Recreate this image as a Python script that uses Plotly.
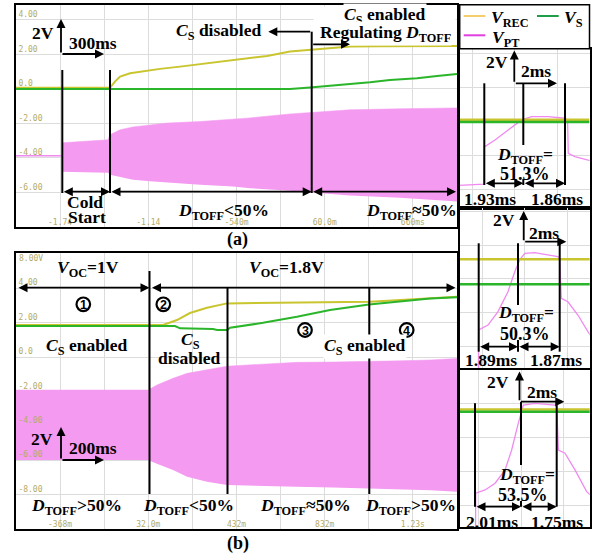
import plotly.graph_objects as go

W, H = 592, 554

# ================= DATA =================
# (a) cold start -- time in ms (300 ms/div), voltage in V
a_rec_t = [-2040, -1401, -1367, -1332, -1264, -1196, -1128, -1060, -924, -788, -564, -332, -176, -40, 96, 232, 436, 960]
a_rec_v = [0.06, 0.06, 0.42, 0.71, 0.91, 1.00, 1.06, 1.16, 1.29, 1.43, 1.68, 1.91, 2.16, 2.25, 2.34, 2.45, 2.47, 2.49]
a_s_t = [-2040, -176, -40, 96, 232, 368, 504, 688, 824, 960]
a_s_v = [0.0, 0.0, 0.08, 0.17, 0.29, 0.39, 0.52, 0.62, 0.75, 0.87]
a_pt_idle_t = [-2040, -1727]
a_pt_idle_v = [-3.87, -3.87]
a_pt_t = [-1727, -1414, -1401, -1332, -1244, -1128, -1013, -788, -564, -448, -176, 117, 232, 572, 960]
a_pt_top = [-3.12, -2.95, -2.66, -2.37, -2.20, -2.08, -1.98, -1.89, -1.75, -1.68, -1.45, -1.30, -1.21, -1.15, -1.10]
a_pt_bot = [-4.80, -4.86, -4.97, -5.10, -5.26, -5.35, -5.43, -5.55, -5.66, -5.75, -5.90, -6.13, -6.18, -6.30, -6.53]
a_xtick_vals = [-1740, -1440, -1140, -840, -540, -240, 60, 360, 660]
a_xtick_text = ['-1.74', '', '-1.14', '', '-540m', '', '60.0m', '', '660ms']
a_ytick_vals = [-6, -4, -2, 0, 2, 4]
a_ytick_text = ['-6.00', '-4.00', '-2.00', '0.0', '2.00', '4.00']

# (b) V_OC step 1V -> 1.8V -- time in ms (200 ms/div)
b_rec_t = [-568, 99, 162, 221, 298, 389, 1037, 1173, 1310, 1432]
b_rec_v = [1.87, 1.87, 2.15, 2.56, 2.87, 3.12, 3.22, 3.31, 3.41, 3.51]
b_s_t = [-568, 153, 176, 325, 344, 389, 403, 552, 706, 856, 1033, 1160, 1310, 1432]
b_s_v = [1.80, 1.80, 1.67, 1.63, 1.57, 1.57, 1.70, 1.99, 2.34, 2.73, 3.06, 3.22, 3.41, 3.47]
b_pt_t = [-568, 31, 71, 144, 208, 298, 389, 570, 706, 870, 1006, 1173, 1310, 1432]
b_pt_top = [-1.92, -1.92, -1.63, -1.24, -0.95, -0.72, -0.53, -0.40, -0.31, -0.29, -0.27, -0.22, -0.17, -0.08]
b_pt_bot = [-5.99, -5.99, -6.20, -6.57, -6.96, -7.25, -7.44, -7.52, -7.55, -7.58, -7.62, -7.69, -7.75, -7.83]
b_xtick_vals = [-368, -168, 32, 232, 432, 632, 832, 1032, 1232]
b_xtick_text = ['-368m', '', '32.0m', '', '432m', '', '832m', '', '1.23s']
b_ytick_vals = [-8, -6, -4, -2, 0, 2, 4]
b_ytick_text = ['-8.00', '-6.00', '-4.00', '-2.00', '0.0', '2.00', '4.00']
b_phase_labels = ['1', '2', '3', '4']

# zoomed switching periods (2 ms/div, 2 V/div)
z_span_t = [-3.5, 3.5]
z1_rec_v = [2.13, 2.13]
z1_s_v = [2.0, 2.0]
z1_pt_t = [-3.0, -1.46, -1.44, -0.94, -0.32, 0.32, 0.79, 1.57, 2.35, 2.48, 2.51, 2.82, 3.45, 3.6]
z1_pt_v = [-1.76, -1.65, 0.53, 0.94, 1.53, 2.12, 2.31, 2.31, 2.22, 2.12, 0.16, -0.04, -0.24, -0.27]
z2_rec_v = [3.16, 3.16]
z2_s_v = [1.69, 1.69]
z2_pt_t = [-2.19, -2.18, -1.74, -1.27, -0.80, -0.48, -0.25, -0.01, 0.46, 1.55, 1.63, 1.71, 2.02, 2.49, 2.96, 3.1]
z2_pt_v = [-3.6, -1.0, -0.71, 0.08, 1.25, 2.43, 3.12, 3.51, 3.55, 3.31, 3.22, 0.86, 0.66, -0.12, -1.10, -1.35]
z3_rec_v = [3.68, 3.68]
z3_s_v = [3.55, 3.55]
z3_pt_t = [-2.14, -2.13, -1.69, -1.22, -0.75, -0.44, -0.13, 0.11, 0.66, 1.60, 1.68, 1.76, 2.07, 2.54, 3.09, 3.3]
z3_pt_v = [-3.6, -1.25, -1.06, -0.66, 0.12, 1.29, 2.86, 3.94, 4.04, 3.94, 3.84, 1.29, 1.10, 0.12, -1.16, -1.40]

# ================= STYLE =================
YEL = '#c9c52e'
GRN = '#2bb52b'
PINK = '#f49af0'
PINK_LINE = '#f08af0'
GRID = '#dcdcdc'
SCOPE = '#b3ab66'
SERIF = 'Liberation Serif'
FS = 17.5
SCOPE_FONT = dict(family='DejaVu Sans Mono', size=8, color=SCOPE)


def fx(x):
    return x / W


def fy(y):
    return 1 - y / H


fig = go.Figure()


def line(x, y, ax, color, width, **kw):
    fig.add_trace(go.Scatter(x=x, y=y, xaxis=ax[0], yaxis=ax[1], mode='lines',
                             line=dict(color=color, width=width), hoverinfo='skip', **kw))


# (a)
line(a_pt_t, a_pt_bot, ('x', 'y'), PINK, 0)
line(a_pt_t, a_pt_top, ('x', 'y'), PINK, 0.5, fill='tonexty', fillcolor=PINK)
line(a_pt_idle_t, a_pt_idle_v, ('x', 'y'), PINK_LINE, 1.5)
line(a_rec_t, a_rec_v, ('x', 'y'), YEL, 2)
line(a_s_t, a_s_v, ('x', 'y'), GRN, 2)
# (b)
line(b_pt_t, b_pt_bot, ('x2', 'y2'), PINK, 0)
line(b_pt_t, b_pt_top, ('x2', 'y2'), PINK, 0.5, fill='tonexty', fillcolor=PINK)
line(b_rec_t, b_rec_v, ('x2', 'y2'), YEL, 2)
line(b_s_t, b_s_v, ('x2', 'y2'), GRN, 2)
# zooms
for i, (rv, sv, pt, pv) in enumerate([(z1_rec_v, z1_s_v, z1_pt_t, z1_pt_v),
                                      (z2_rec_v, z2_s_v, z2_pt_t, z2_pt_v),
                                      (z3_rec_v, z3_s_v, z3_pt_t, z3_pt_v)]):
    axp = ('x%d' % (i + 3), 'y%d' % (i + 3))
    line(pt, pv, axp, PINK_LINE, 1.3)
    line(z_span_t, rv, axp, YEL, 2.5)
    line(z_span_t, sv, axp, GRN, 2.5)


def axis(**kw):
    d = dict(showline=True, mirror=True, linecolor='black', linewidth=2, zeroline=False,
             showgrid=True, gridcolor=GRID, gridwidth=1, ticks='', fixedrange=True)
    d.update(kw)
    return d


layout_axes = dict(
    xaxis=axis(domain=[fx(16), fx(457)], range=[-2040, 960], anchor='y',
               tickmode='array', tickvals=a_xtick_vals, ticktext=a_xtick_text,
               ticklabelposition='inside', ticklabelstandoff=-1, tickfont=SCOPE_FONT),
    yaxis=axis(domain=[fy(227), fy(5)], range=[-8, 4.86], anchor='x',
               tickmode='array', tickvals=a_ytick_vals, ticktext=a_ytick_text,
               ticklabelposition='inside top', tickfont=SCOPE_FONT),
    xaxis2=axis(domain=[fx(16), fx(457)], range=[-568, 1432], anchor='y2',
                tickmode='array', tickvals=b_xtick_vals, ticktext=b_xtick_text,
                ticklabelposition='inside', ticklabelstandoff=-1, tickfont=SCOPE_FONT),
    yaxis2=axis(domain=[fy(529), fy(253)], range=[-10, 6.05], anchor='x2',
                tickmode='array', tickvals=b_ytick_vals, ticktext=b_ytick_text,
                ticklabelposition='inside top', tickfont=SCOPE_FONT),
    xaxis3=axis(domain=[fx(459.5), fx(589.7)], range=[-2.61, 3.52], anchor='y3',
                dtick=2, tick0=0, showticklabels=False),
    yaxis3=axis(domain=[fy(208), fy(48.7)], range=[-3.06, 6.31], anchor='x3',
                dtick=2, tick0=0, showticklabels=False),
    xaxis4=axis(domain=[fx(459.5), fx(589.7)], range=[-3.08, 3.045], anchor='y4',
                dtick=2, tick0=0, showticklabels=False),
    yaxis4=axis(domain=[fy(368), fy(208.3)], range=[-3.24, 6.16], anchor='x4',
                dtick=2, tick0=0, showticklabels=False),
    xaxis5=axis(domain=[fx(459.5), fx(589.7)], range=[-2.894, 3.233], anchor='y5',
                dtick=2, tick0=0, showticklabels=False),
    yaxis5=axis(domain=[fy(527), fy(369.5)], range=[-3.24, 6.03], anchor='x5',
                dtick=2, tick0=0, showticklabels=False),
)

shapes = []


def vl(x, y0, y1, w=2):
    shapes.append(dict(type='line', xref='paper', yref='paper', x0=fx(x), x1=fx(x),
                       y0=fy(y0), y1=fy(y1), line=dict(color='black', width=w)))


def hl(x0, x1, y, color, w=2):
    shapes.append(dict(type='line', xref='paper', yref='paper', x0=fx(x0), x1=fx(x1),
                       y0=fy(y), y1=fy(y), line=dict(color=color, width=w)))


def ring(x, y, r=6.8):
    shapes.append(dict(type='circle', xref='paper', yref='paper', x0=fx(x - r), x1=fx(x + r),
                       y0=fy(y + r), y1=fy(y - r), line=dict(color='black', width=2.2)))


# white box behind "CS enabled / Regulating"
shapes.append(dict(type='rect', xref='paper', yref='paper', x0=fx(313.5), x1=fx(455.5),
                   y0=fy(39), y1=fy(6.5), fillcolor='white', line=dict(width=0)))

# (a) markers
vl(62.3, 70, 193)
vl(110, 70, 193)
vl(311.7, 31.7, 193)
# (b) markers
vl(149.5, 271, 494)
vl(227.5, 287.7, 494)
vl(369.3, 287.7, 494)
# zoom 1
vl(484.3, 83.3, 185)
vl(523.3, 83.3, 145)
vl(523.3, 179, 185)
vl(565, 83.3, 185)
# zoom 2
vl(478.7, 243.3, 351.7)
vl(518, 243.3, 305)
vl(518, 340, 351.7)
vl(559.7, 241.7, 351.7)
# zoom 3
vl(475, 403.3, 506.7)
vl(521, 401.7, 465)
vl(521, 501, 506.7)
vl(556.7, 401.7, 506.7)

# legend box
shapes.append(dict(type='rect', xref='paper', yref='paper', x0=fx(459.7), x1=fx(589.5),
                   y0=fy(48.7), y1=fy(4.7), fillcolor='white', line=dict(color='black', width=1.5)))
hl(463.7, 485.3, 16, '#f5cd6a', 2)
hl(537, 558.7, 16, '#1f9e4a', 2)
hl(463.7, 485.3, 35.3, '#e040e0', 2)

ann = []


def txt(x, y, s, size=FS, bg=None, color='black', family=SERIF, xanchor='center'):
    a = dict(x=fx(x), y=fy(y), xref='paper', yref='paper', text=s, showarrow=False,
             xanchor=xanchor, yanchor='middle', borderpad=0,
             font=dict(family=family, size=size, color=color))
    if bg:
        a['bgcolor'] = bg
    ann.append(a)


def arr(x0, y0, x1, y1, both=False):
    ann.append(dict(x=fx(x1), y=fy(y1), xref='paper', yref='paper', ax=x0 - x1, ay=y0 - y1,
                    axref='pixel', ayref='pixel', text='', showarrow=True,
                    arrowhead=2, arrowsize=1, arrowwidth=1.8, arrowcolor='black',
                    arrowside='end+start' if both else 'end',
                    startarrowhead=2, startarrowsize=1))


DT = '<i>D</i><sub>TOFF</sub>'
CS = '<i>C</i><sub>S</sub>'

# (a) texts
txt(43.3, 33.3, '<b>2V</b>')
txt(93.3, 42.7, '<b>300ms</b>')
txt(218.3, 31.7, '<b>%s disabled</b>' % CS)
txt(385, 15, '<b>%s enabled</b>' % CS, bg='white')
txt(386, 33.3, '<b>Regulating %s</b>' % DT, bg='white')
txt(85, 201.7, '<b>Cold</b>')
txt(86.7, 217.3, '<b>Start</b>')
txt(223.3, 211.7, '<b>%s&lt;50%%</b>' % DT)
txt(411, 211.7, '<b>%s≈50%%</b>' % DT)
txt(237, 240, '<b>(a)</b>', size=18)

# (b) texts
txt(18, 258, '8.00V', size=8, color=SCOPE, family='DejaVu Sans Mono', xanchor='left')
txt(88.3, 268.3, '<b><i>V</i><sub>OC</sub>=1V</b>')
txt(286.7, 268.3, '<b><i>V</i><sub>OC</sub>=1.8V</b>')
for (cx, cy), lab in zip([(83.3, 304.3), (163.3, 304.3), (305, 330), (406.7, 330)], b_phase_labels):
    ring(cx, cy)
    txt(cx, cy + 0.5, '<b>%s</b>' % lab, size=12.5, family='Liberation Sans')
txt(86.7, 346.7, '<b>%s enabled</b>' % CS)
txt(190, 340.5, '<b>%s</b>' % CS)
txt(189.3, 357.5, '<b>disabled</b>')
txt(365, 346, '<b>%s enabled</b>' % CS, bg='white')
txt(41.7, 439.3, '<b>2V</b>')
txt(93.3, 448.3, '<b>200ms</b>')
txt(76.7, 506, '<b>%s&gt;50%%</b>' % DT)
txt(188.3, 506, '<b>%s&lt;50%%</b>' % DT)
txt(305, 506, '<b>%s≈50%%</b>' % DT)
txt(410, 506, '<b>%s&gt;50%%</b>' % DT)
txt(238.3, 543.3, '<b>(b)</b>', size=18)

# legend texts
txt(510, 18.7, '<b><i>V</i><sub>REC</sub></b>')
txt(573, 18.7, '<b><i>V</i><sub>S</sub></b>')
txt(505.7, 38.7, '<b><i>V</i><sub>PT</sub></b>')

# zoom texts
txt(497, 62, '<b>2V</b>')
txt(536, 71, '<b>2ms</b>')
txt(525, 155.5, '<b>%s=</b>' % DT, size=17.5)
txt(525, 173.5, '<b>51.3%</b>', size=18)
txt(490, 199, '<b>1.93ms</b>')
txt(557, 199, '<b>1.86ms</b>')

txt(504, 220, '<b>2V</b>')
txt(544, 233, '<b>2ms</b>')
txt(526.3, 313.5, '<b>%s=</b>' % DT, size=17.5)
txt(524.7, 333.5, '<b>50.3%</b>', size=18)
txt(491.3, 360, '<b>1.89ms</b>')
txt(556.3, 360, '<b>1.87ms</b>')

txt(498, 381.7, '<b>2V</b>')
txt(541.7, 391.7, '<b>2ms</b>')
txt(526.7, 475.2, '<b>%s=</b>' % DT, size=17.5)
txt(523.3, 495.2, '<b>53.5%</b>', size=18)
txt(491.7, 521.7, '<b>2.01ms</b>')
txt(556.7, 521.7, '<b>1.75ms</b>')

# arrows (a)
arr(61, 54, 61, 19)
arr(61, 54, 104, 54)
arr(311.7, 31.7, 268.3, 31.7)
arr(311.7, 44.3, 350, 44.3)
arr(62.3, 191.7, 110, 191.7, True)
arr(110, 191.7, 311.7, 191.7, True)
arr(311.7, 191.7, 456, 191.7, True)
# arrows (b)
arr(17, 287.7, 149.5, 287.7, True)
arr(150.5, 287.7, 455.5, 287.7, True)
arr(61, 460, 61, 427)
arr(61, 460, 104, 460)
# zoom arrows
arr(514.3, 83.3, 514.3, 50.5)
arr(514.3, 83.3, 557, 83.3)
arr(484.3, 183.3, 523.3, 183.3, True)
arr(523.3, 183.3, 565, 183.3, True)
arr(523.7, 241.7, 523.7, 211)
arr(523.7, 241.7, 566.3, 241.7)
arr(478.7, 346.7, 518, 346.7, True)
arr(518, 346.7, 559.7, 346.7, True)
arr(519.5, 401.7, 519.5, 371.5)
arr(519.5, 401.7, 564.3, 401.7)
arr(475, 506.7, 521, 506.7, True)
arr(521, 506.7, 556.7, 506.7, True)

fig.update_layout(width=W, height=H, margin=dict(l=0, r=0, t=0, b=0),
                  paper_bgcolor='white', plot_bgcolor='white', showlegend=False,
                  shapes=shapes, annotations=ann, **layout_axes)

fig.write_html('out.html', config={'displayModeBar': False})
